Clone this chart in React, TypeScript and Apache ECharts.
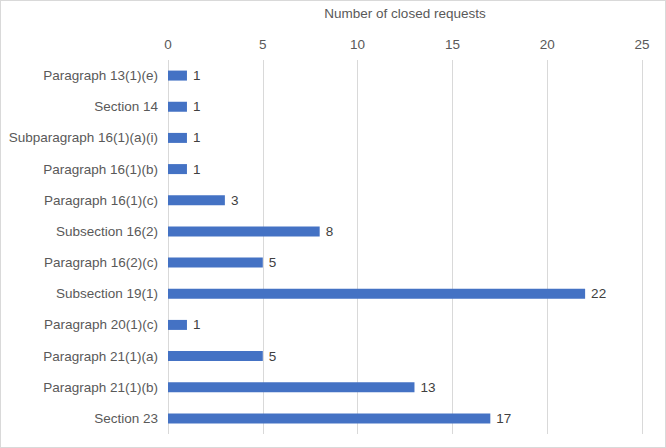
import React, { useEffect, useRef } from "react";
import * as echarts from "echarts";

const categories = [
  "Paragraph 13(1)(e)",
  "Section 14",
  "Subparagraph 16(1)(a)(i)",
  "Paragraph 16(1)(b)",
  "Paragraph 16(1)(c)",
  "Subsection 16(2)",
  "Paragraph 16(2)(c)",
  "Subsection 19(1)",
  "Paragraph 20(1)(c)",
  "Paragraph 21(1)(a)",
  "Paragraph 21(1)(b)",
  "Section 23",
];
const closedRequests = [1, 1, 1, 1, 3, 8, 5, 22, 1, 5, 13, 17];
const axisTitle = "Number of closed requests";

const FONT = "Liberation Sans";

export default function App() {
  const ref = useRef<HTMLDivElement>(null);
  useEffect(() => {
    if (!ref.current) return;
    const chart = echarts.init(ref.current, undefined, { renderer: "svg" });
    chart.setOption({
      animation: false,
      textStyle: { fontFamily: FONT },
      grid: { left: 167, right: 23, top: 58, bottom: 13, containLabel: false },
      xAxis: {
        type: "value",
        position: "top",
        min: 0,
        max: 25,
        interval: 5,
        name: axisTitle,
        nameLocation: "middle",
        nameGap: 40,
        nameTextStyle: { color: "#595959", fontSize: 13.5, fontFamily: FONT },
        axisLine: { show: false },
        axisTick: { show: false },
        axisLabel: { color: "#595959", fontSize: 13.5, margin: 9, fontFamily: FONT },
        splitLine: { show: true, lineStyle: { color: "#d9d9d9", width: 1 } },
      },
      yAxis: {
        type: "category",
        data: categories,
        inverse: true,
        axisLine: { show: false },
        axisTick: { show: false },
        axisLabel: { color: "#595959", fontSize: 13.5, margin: 10, fontFamily: FONT },
      },
      series: [
        {
          type: "bar",
          data: closedRequests,
          barWidth: 10,
          itemStyle: { color: "#4472c4" },
          label: {
            show: true,
            position: "right",
            distance: 6,
            color: "#404040",
            fontSize: 13.5,
            fontFamily: FONT,
          },
        },
      ],
    });
    return () => chart.dispose();
  }, []);
  return (
    <div
      style={{
        position: "fixed",
        left: 0,
        top: 0,
        width: 666,
        height: 448,
        boxSizing: "border-box",
        border: "1px solid #d9d9d9",
        background: "#fff",
      }}
    >
      <div ref={ref} style={{ width: 664, height: 446 }} />
    </div>
  );
}
